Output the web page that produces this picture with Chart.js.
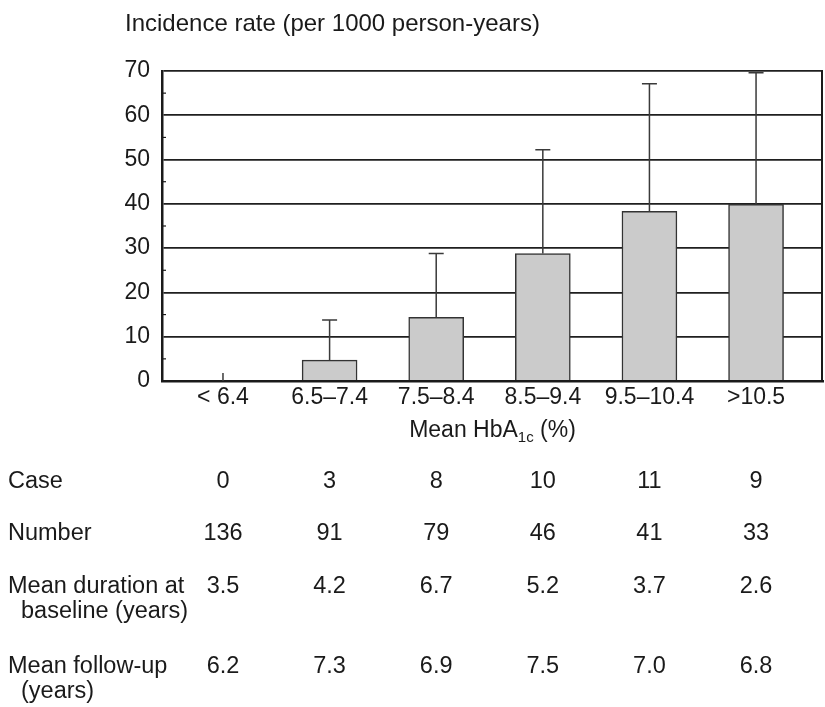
<!DOCTYPE html>
<html>
<head>
<meta charset="utf-8">
<script src="https://cdn.jsdelivr.net/npm/chart.js@4.4.6/dist/chart.umd.min.js"></script>
<style>
  html, body { margin: 0; padding: 0; background: #fff; }
  canvas { display: block; }
</style>
</head>
<body>
<canvas id="chart" width="825" height="707"></canvas>
<script>
const categories = ["< 6.4", "6.5\u20137.4", "7.5\u20138.4", "8.5\u20139.4", "9.5\u201310.4", ">10.5"];
const incidence = [0, 4.7, 14.4, 28.8, 38.3, 39.9];
const upperLimit = [1.8, 13.8, 28.8, 52.2, 67.1, 69.6];
const yTicks = [0, 10, 20, 30, 40, 50, 60, 70];

const rowLabels = [["Case"], ["Number"], ["Mean duration at", "baseline (years)"], ["Mean follow-up", "(years)"]];
const cases = ["0", "3", "8", "10", "11", "9"];
const numbers = ["136", "91", "79", "46", "41", "33"];
const durations = ["3.5", "4.2", "6.7", "5.2", "3.7", "2.6"];
const followUps = ["6.2", "7.3", "6.9", "7.5", "7.0", "6.8"];
const tableValues = [cases, numbers, durations, followUps];

const FONT = "'Liberation Sans', Arial, Helvetica, sans-serif";
const INK = "#1a1a1a";
Chart.defaults.font.family = FONT;
Chart.defaults.color = INK;

// error bars, minor ticks, right frame
const errorBars = {
  id: "errorBars",
  afterDatasetsDraw(chart) {
    const { ctx, chartArea, scales } = chart;
    const x = scales.x, y = scales.y;
    ctx.save();
    ctx.strokeStyle = "#3a3a3a";
    ctx.lineWidth = 1.5;
    incidence.forEach((v, i) => {
      const px = x.getPixelForValue(i);
      const top = y.getPixelForValue(upperLimit[i]);
      ctx.beginPath();
      ctx.moveTo(px, y.getPixelForValue(v));
      ctx.lineTo(px, top);
      if (v > 0) {
        ctx.moveTo(px - 7.5, top);
        ctx.lineTo(px + 7.5, top);
      }
      ctx.stroke();
    });
    ctx.strokeStyle = INK;
    ctx.lineWidth = 1.2;
    for (let t = 5; t < 70; t += 10) {
      const py = y.getPixelForValue(t);
      ctx.beginPath();
      ctx.moveTo(chartArea.left, py);
      ctx.lineTo(chartArea.left + 4, py);
      ctx.stroke();
    }
    ctx.lineWidth = 2;
    ctx.beginPath();
    ctx.moveTo(chartArea.right - 1, chartArea.top);
    ctx.lineTo(chartArea.right - 1, chartArea.bottom);
    ctx.stroke();
    ctx.restore();
  }
};

// titles and table under the chart
const textLayer = {
  id: "textLayer",
  afterDraw(chart) {
    const { ctx, chartArea, scales } = chart;
    ctx.save();
    ctx.fillStyle = INK;
    ctx.textBaseline = "alphabetic";

    ctx.font = "24px " + FONT;
    ctx.textAlign = "left";
    ctx.fillText("Incidence rate (per 1000 person-years)", 125, 31);

    // x title with subscript
    const main = "Mean HbA", sub = "1c", tail = " (%)";
    ctx.font = "23px " + FONT;
    const w1 = ctx.measureText(main).width;
    const w3 = ctx.measureText(tail).width;
    ctx.font = "15px " + FONT;
    const w2 = ctx.measureText(sub).width;
    const sx = (chartArea.left + chartArea.right) / 2 - (w1 + w2 + w3) / 2;
    ctx.font = "23px " + FONT;
    ctx.fillText(main, sx, 437);
    ctx.font = "15px " + FONT;
    ctx.fillText(sub, sx + w1, 442);
    ctx.font = "23px " + FONT;
    ctx.fillText(tail, sx + w1 + w2, 437);

    ctx.font = "23.5px " + FONT;
    const baselines = [[488], [540], [593, 618], [673, 698]];
    rowLabels.forEach((lines, r) => {
      ctx.textAlign = "left";
      lines.forEach((line, k) => ctx.fillText(line, k === 0 ? 8 : 21, baselines[r][k]));
      ctx.textAlign = "center";
      tableValues[r].forEach((val, i) => {
        ctx.fillText(val, scales.x.getPixelForValue(i), baselines[r][0]);
      });
    });
    ctx.restore();
  }
};

new Chart(document.getElementById("chart"), {
  type: "bar",
  data: {
    datasets: [{
      data: incidence.map((v, i) => ({ x: i, y: v })),
      backgroundColor: "#cbcbcb",
      borderColor: "#333",
      borderWidth: 1.5,
      barThickness: 55
    }]
  },
  options: {
    responsive: false,
    animation: false,
    events: [],
    layout: { padding: { top: 71, right: 2, left: 0, bottom: 0 } },
    plugins: { legend: { display: false }, tooltip: { enabled: false }, title: { display: false } },
    scales: {
      x: {
        type: "linear",
        offset: false,
        min: -0.572,
        max: 5.628,
        afterBuildTicks: axis => { axis.ticks = categories.map((c, i) => ({ value: i })); },
        afterFit: axis => { axis.height = 326; },
        ticks: {
          font: { size: 23 },
          color: INK,
          padding: 3,
          maxRotation: 0,
          autoSkip: false,
          callback: v => categories[v]
        },
        grid: { display: false, drawTicks: false, offset: false },
        border: { display: true, color: INK, width: 2.5 }
      },
      y: {
        min: 0,
        max: 70,
        afterBuildTicks: axis => { axis.ticks = yTicks.map(v => ({ value: v })); },
        afterFit: axis => { axis.width = 162; },
        ticks: { font: { size: 23 }, color: INK, padding: 12 },
        grid: { color: "#1f1f1f", lineWidth: 1.8, drawTicks: false },
        border: { display: true, color: INK, width: 2.5 }
      }
    }
  },
  plugins: [errorBars, textLayer]
});
</script>
</body>
</html>
